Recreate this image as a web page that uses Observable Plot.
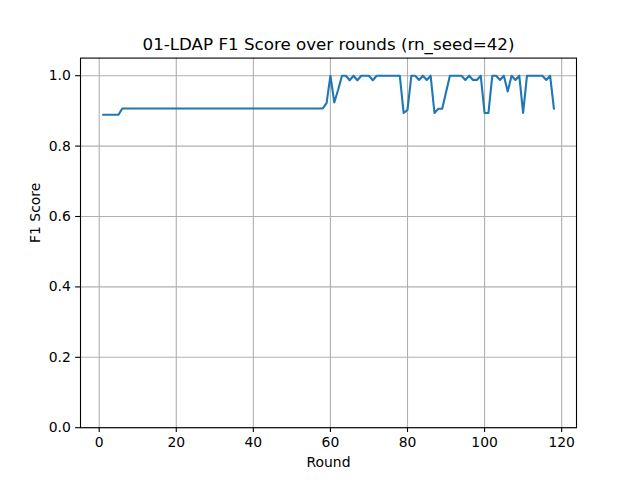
<!DOCTYPE html>
<html>
<head>
<meta charset="utf-8">
<script src="https://cdn.jsdelivr.net/npm/d3@7"></script>
<script src="https://cdn.jsdelivr.net/npm/@observablehq/plot@0.6"></script>
<style>
  html, body { margin: 0; padding: 0; background: white; }
</style>
</head>
<body>
<div id="chart"></div>
<script>
const titleText = "01-LDAP F1 Score over rounds (rn_seed=42)";
const xLabel = "Round";
const yLabel = "F1 Score";

const rounds = [
  1,2,3,4,5,6,7,8,9,10,11,12,13,14,15,16,17,18,19,20,
  21,22,23,24,25,26,27,28,29,30,31,32,33,34,35,36,37,38,39,40,
  41,42,43,44,45,46,47,48,49,50,51,52,53,54,55,56,57,58,59,60,
  61,62,63,64,65,66,67,68,69,70,71,72,73,74,75,76,77,78,79,80,
  81,82,83,84,85,86,87,88,89,90,91,92,93,94,95,96,97,98,99,100,
  101,102,103,104,105,106,107,108,109,110,111,112,113,114,115,116,117,118
];

const f1 = [
  // 1-5
  0.889,0.889,0.889,0.889,0.889,
  // 6-58
  0.907,0.907,0.907,0.907,0.907,0.907,0.907,0.907,0.907,0.907,
  0.907,0.907,0.907,0.907,0.907,0.907,0.907,0.907,0.907,0.907,
  0.907,0.907,0.907,0.907,0.907,0.907,0.907,0.907,0.907,0.907,
  0.907,0.907,0.907,0.907,0.907,0.907,0.907,0.907,0.907,0.907,
  0.907,0.907,0.907,0.907,0.907,0.907,0.907,0.907,0.907,0.907,
  0.907,0.907,0.907,
  // 59-78
  0.922,1.0,0.924,0.960,1.0,1.0,0.987,1.0,0.987,1.0,
  1.0,1.0,0.987,1.0,1.0,1.0,1.0,1.0,1.0,1.0,
  // 79-98
  0.894,0.903,1.0,1.0,0.988,1.0,0.988,1.0,0.894,0.906,
  0.906,0.953,1.0,1.0,1.0,1.0,0.988,1.0,0.988,0.988,
  // 99-118
  1.0,0.894,0.894,1.0,1.0,0.988,1.0,0.955,1.0,0.988,
  1.0,0.894,1.0,1.0,1.0,1.0,1.0,0.988,1.0,0.906
];

const xTicks = [0, 20, 40, 60, 80, 100, 120];
const yTicks = [0.0, 0.2, 0.4, 0.6, 0.8, 1.0];
const xDomain = [-4.85, 123.85];
const yDomain = [0, 1.05];

const data = rounds.map((r, i) => ({round: r, f1: f1[i]}));

const chart = Plot.plot({
  width: 640,
  height: 480,
  marginLeft: 80,
  marginRight: 64,
  marginTop: 57.6,
  marginBottom: 52.8,
  style: {
    background: "white",
    fontFamily: "'DejaVu Sans', sans-serif",
    fontSize: "13.9px",
    color: "black"
  },
  x: {domain: xDomain, axis: null},
  y: {domain: yDomain, axis: null},
  marks: [
    Plot.gridX(xTicks, {stroke: "#b0b0b0", strokeOpacity: 1, strokeWidth: 1.1}),
    Plot.gridY(yTicks, {stroke: "#b0b0b0", strokeOpacity: 1, strokeWidth: 1.1}),
    Plot.line(data, {x: "round", y: "f1", stroke: "#1f77b4", strokeWidth: 2.1}),
    Plot.frame({stroke: "black", strokeWidth: 1.1}),
    Plot.axisX(xTicks, {
      tickSize: 4.86, tickPadding: 4.86, strokeWidth: 1.1,
      tickFormat: d => String(d), label: null, fontSize: 13.9
    }),
    Plot.axisY(yTicks, {
      tickSize: 4.86, tickPadding: 4.86, strokeWidth: 1.1,
      tickFormat: d3.format(".1f"), label: null, fontSize: 13.9
    }),
    Plot.text([titleText], {
      frameAnchor: "top", dy: -8.3, lineAnchor: "bottom",
      fontSize: 16.7, text: d => d, fill: "black"
    }),
    Plot.text([xLabel], {
      frameAnchor: "bottom", dy: 29, lineAnchor: "top",
      fontSize: 13.9, text: d => d, fill: "black"
    }),
    Plot.text([yLabel], {
      frameAnchor: "left", dx: -45, rotate: -90, lineAnchor: "middle",
      fontSize: 13.9, text: d => d, fill: "black"
    })
  ]
});

document.getElementById("chart").appendChild(chart);
</script>
</body>
</html>
